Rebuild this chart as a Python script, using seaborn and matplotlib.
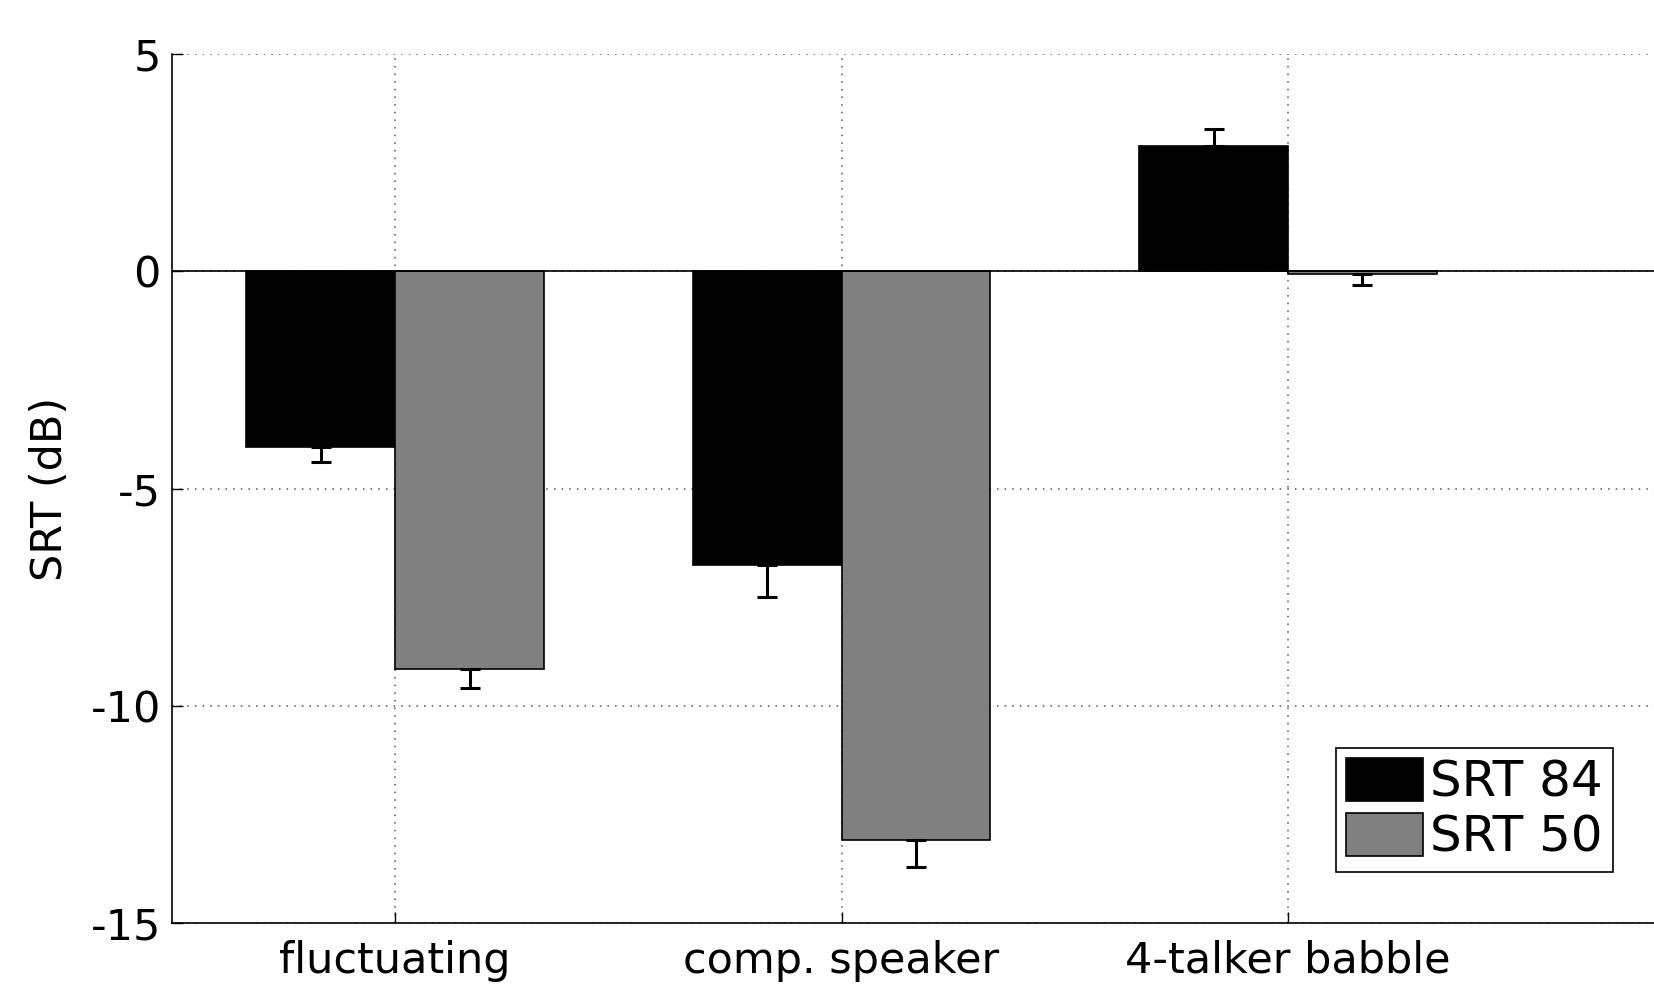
import numpy as np
import pandas as pd
import matplotlib
matplotlib.use('Agg')
import matplotlib.pyplot as plt
import seaborn as sns

# data
conditions = ['fluctuating', 'comp. speaker', '4-talker babble']
series = ['SRT 84', 'SRT 50']
srt84 = [-4.05, -6.77, 2.89]
srt50 = [-9.15, -13.10, -0.07]
err84 = [0.35, 0.73, 0.39]
err50 = [0.44, 0.60, 0.24]
yticks = [-15, -10, -5, 0, 5]

df = pd.DataFrame({
    'condition': conditions * 2,
    'series': [series[0]] * 3 + [series[1]] * 3,
    'srt': srt84 + srt50,
})

sns.set_style('white')
plt.rcParams['font.family'] = ['DejaVu Sans']
plt.rcParams['text.color'] = 'black'
plt.rcParams['axes.labelcolor'] = 'black'

fig = plt.figure(figsize=(16.54, 9.84), dpi=100)
ax = fig.add_axes([0.104, 0.062, 0.896, 0.883])

sns.barplot(data=df, x='condition', y='srt', hue='series', order=conditions,
            hue_order=series, palette=['#000000', '#808080'], width=2/3,
            errorbar=None, edgecolor='black', linewidth=1.2, ax=ax, zorder=2)

# one-sided error bars, positioned from the drawn bars
errs = err84 + err50
vals = srt84 + srt50
for patch, v, e in zip(ax.patches[:6], vals, errs):
    xc = patch.get_x() + patch.get_width() / 2
    lo, hi = (e, 0) if v < 0 else (0, e)
    ax.errorbar(xc, v, yerr=[[lo], [hi]], fmt='none', ecolor='black',
                elinewidth=2.2, capsize=7, capthick=2.2, zorder=3)

ax.axhline(0, color='black', lw=1.2, zorder=2.5)

ax.set_xlim(-0.5, 2.82)
ax.set_ylim(-15, 5)
ax.set_yticks(yticks)
ax.set_yticklabels([str(t) for t in yticks])
ax.set_xlabel('')
ax.set_ylabel('SRT (dB)', fontsize=31, labelpad=14)
ax.tick_params(axis='both', labelsize=31, direction='in', length=8, width=1,
               left=True, bottom=True, colors='black')
ax.tick_params(axis='x', pad=12)
ax.tick_params(axis='y', pad=8)
ax.grid(True, linestyle=(0, (1, 4)), color='#555555', linewidth=1.1, zorder=0)
ax.set_axisbelow(True)
for s in ['top', 'right']:
    ax.spines[s].set_visible(False)
for s in ['left', 'bottom']:
    ax.spines[s].set_color('black')
    ax.spines[s].set_linewidth(1.2)

leg = ax.legend(loc='lower right', bbox_to_anchor=(0.975, 0.114),
                bbox_transform=fig.transFigure, fontsize=36, frameon=True,
                fancybox=False, edgecolor='black', framealpha=1,
                handlelength=1.54, handleheight=0.96, handletextpad=0.15,
                borderpad=0.2, labelspacing=0.12, borderaxespad=0)
leg.get_frame().set_linewidth(1.2)

fig.savefig('out.png', dpi=100)
